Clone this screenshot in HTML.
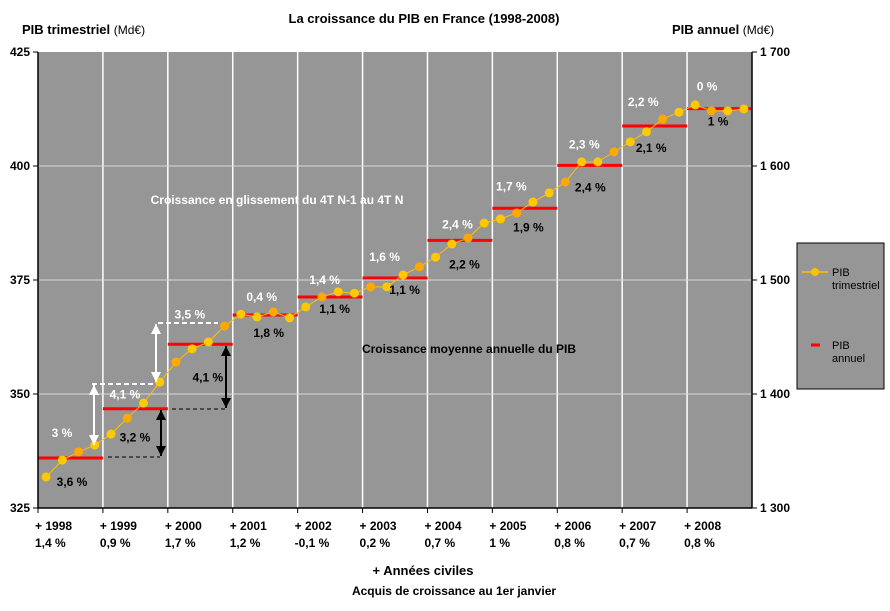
<!DOCTYPE html>
<html><head><meta charset="utf-8"><style>
body{margin:0;background:#fff;}
svg{display:block;font-family:"Liberation Sans",Arial,sans-serif;}
</style></head><body>
<svg id="chart" width="890" height="611" viewBox="0 0 890 611">
<defs>
<marker id="aw" markerUnits="userSpaceOnUse" markerWidth="10" markerHeight="10" refX="10" refY="5" orient="auto-start-reverse"><path d="M0,0 L10,5 L0,10 z" fill="#fff"/></marker>
<marker id="ab" markerUnits="userSpaceOnUse" markerWidth="10" markerHeight="10" refX="10" refY="5" orient="auto-start-reverse"><path d="M0,0 L10,5 L0,10 z" fill="#000"/></marker>
</defs>
<text x="424" y="23" text-anchor="middle" font-size="13" font-weight="bold">La croissance du PIB en France (1998-2008)</text>
<text x="22" y="34" font-size="13" font-weight="bold">PIB trimestriel <tspan font-weight="normal" font-size="12">(Md€)</tspan></text>
<text x="672" y="34" font-size="13" font-weight="bold">PIB annuel <tspan font-weight="normal" font-size="12">(Md€)</tspan></text>
<rect x="38" y="52" width="714" height="456" fill="#969696"/>
<g id="grid"></g>
<g id="annual"></g>
<g id="quarterly"></g>
<g id="axes"></g>
<g id="labels"></g>
<g>
<line x1="92" y1="384" x2="153" y2="384" stroke="#fff" stroke-width="2" stroke-dasharray="5,3"/>
<line x1="158" y1="323" x2="218" y2="323" stroke="#fff" stroke-width="2" stroke-dasharray="5,3"/>
<line x1="94" y1="385" x2="94" y2="445" stroke="#fff" stroke-width="2" marker-start="url(#aw)" marker-end="url(#aw)"/>
<line x1="156" y1="324" x2="156" y2="382" stroke="#fff" stroke-width="2" marker-start="url(#aw)" marker-end="url(#aw)"/>
<line x1="108" y1="457" x2="160" y2="457" stroke="#000" stroke-width="1" stroke-dasharray="4,3"/>
<line x1="172" y1="409" x2="228" y2="409" stroke="#000" stroke-width="1" stroke-dasharray="4,3"/>
<line x1="161" y1="410" x2="161" y2="456" stroke="#000" stroke-width="2" marker-start="url(#ab)" marker-end="url(#ab)"/>
<line x1="226" y1="346" x2="226" y2="408" stroke="#000" stroke-width="2" marker-start="url(#ab)" marker-end="url(#ab)"/>
</g>
<text x="277" y="204" text-anchor="middle" font-size="12" font-weight="bold" fill="#fff">Croissance en glissement du 4T N-1 au 4T N</text>
<text x="469" y="353" text-anchor="middle" font-size="12" font-weight="bold" fill="#000">Croissance moyenne annuelle du PIB</text>
<g>
<rect x="797" y="243" width="87" height="146" fill="#969696" stroke="#000" stroke-width="1"/>
<line x1="802" y1="272" x2="828" y2="272" stroke="#FFC000" stroke-width="1.5"/>
<circle cx="815" cy="272" r="4" fill="#FFC000"/>
<text x="832" y="276" font-size="11" fill="#000">PIB</text>
<text x="832" y="289" font-size="11" fill="#000">trimestriel</text>
<line x1="811" y1="345" x2="820" y2="345" stroke="#f00" stroke-width="3"/>
<text x="832" y="349" font-size="11" fill="#000">PIB</text>
<text x="832" y="362" font-size="11" fill="#000">annuel</text>
</g>
<text x="423" y="575" text-anchor="middle" font-size="13" font-weight="bold">+ Années civiles</text>
<text x="454" y="595" text-anchor="middle" font-size="12" font-weight="bold">Acquis de croissance au 1er janvier</text>
</svg>
<script>
const years=["1998","1999","2000","2001","2002","2003","2004","2005","2006","2007","2008"];
const acquis=["1,4 %","0,9 %","1,7 %","1,2 %","-0,1 %","0,2 %","0,7 %","1 %","0,8 %","0,7 %","0,8 %"];
const quarterly=[331.8,335.5,337.3,338.8,341.2,344.7,348.0,352.6,357.0,359.9,361.4,364.9,367.5,366.9,368.0,366.7,369.1,371.3,372.4,372.1,373.5,373.5,376.1,377.9,380.0,382.9,384.2,387.5,388.4,389.7,392.1,394.1,396.5,400.9,400.9,403.1,405.3,407.5,410.3,411.8,413.4,412.1,412.1,412.5];
const annual=[1343.9,1387.1,1443.6,1469.3,1485.1,1501.8,1534.8,1562.9,1600.6,1635.1,1650.3];
const glissement=["3 %","4,1 %","3,5 %","0,4 %","1,4 %","1,6 %","2,4 %","1,7 %","2,3 %","2,2 %","0 %"];
const moyenne=["3,6 %","3,2 %","4,1 %","1,8 %","1,1 %","1,1 %","2,2 %","1,9 %","2,4 %","2,1 %","1 %"];
const leftTicks=[325,350,375,400,425];
const rightTicks=[1300,1400,1500,1600,1700];
const rightTickLabels=["1 300","1 400","1 500","1 600","1 700"];
const NS="http://www.w3.org/2000/svg";
const X0=38,X1=752,Y0=508,Y1=52,YW=(X1-X0)/years.length;
const yL=v=>Y0-(v-325)/100*(Y0-Y1);
const yR=v=>Y0-(v-1300)/400*(Y0-Y1);
const xQ=i=>X0+(i+0.5)*YW/4;
const xY=i=>X0+i*YW;
function mk(tag,attrs,parent){const e=document.createElementNS(NS,tag);for(const k in attrs)e.setAttribute(k,attrs[k]);parent.appendChild(e);return e;}
const grid=document.getElementById('grid'),axes=document.getElementById('axes'),labels=document.getElementById('labels');
years.forEach((y,i)=>{if(i>0){const l=mk('line',{x1:xY(i),x2:xY(i),y1:Y1,y2:Y0,stroke:'#fff','stroke-width':1.5},grid);

}});
leftTicks.slice(1,-1).forEach(v=>{const l=mk('line',{x1:X0,x2:X1,y1:yL(v),y2:yL(v),stroke:'#d8d8d8','stroke-width':1},grid);

});
const ann=document.getElementById('annual');
annual.forEach((v,i)=>{const l=mk('line',{x1:xY(i),x2:xY(i+1),y1:yR(v),y2:yR(v),stroke:'#f00','stroke-width':3},ann);

});
const q=document.getElementById('quarterly');
const pl=mk('polyline',{points:quarterly.map((v,i)=>xQ(i)+','+yL(v)).join(' '),fill:'none',stroke:'#FFC000','stroke-width':1},q);


quarterly.forEach((v,i)=>{const c=mk('circle',{cx:xQ(i),cy:yL(v),r:4.5,fill:(i%3==2)?'#FFA800':'#FFC800'},q);

});
mk('line',{x1:X0,x2:X0,y1:Y1,y2:Y0,stroke:'#000','stroke-width':1.5},axes);
mk('line',{x1:X1,x2:X1,y1:Y1,y2:Y0,stroke:'#000','stroke-width':1.5},axes);
mk('line',{x1:X0,x2:X1,y1:Y0,y2:Y0,stroke:'#000','stroke-width':1.5},axes);
leftTicks.forEach(v=>{mk('line',{x1:X0-5,x2:X0,y1:yL(v),y2:yL(v),stroke:'#000'},axes);
const t=mk('text',{x:X0-8,y:yL(v)+4,'text-anchor':'end','font-size':12,'font-weight':'bold'},axes);t.textContent=v;

});
rightTicks.forEach((v,i)=>{mk('line',{x1:X1,x2:X1+5,y1:yR(v),y2:yR(v),stroke:'#000'},axes);
const t=mk('text',{x:X1+8,y:yR(v)+4,'font-size':12,'font-weight':'bold'},axes);t.textContent=rightTickLabels[i];

});
years.forEach((y,i)=>{mk('line',{x1:xY(i),x2:xY(i),y1:Y0,y2:Y0+5,stroke:'#000'},axes);
const t=mk('text',{x:xY(i)-3,y:530,'font-size':12,'font-weight':'bold'},axes);t.textContent='+ '+y;


const a=mk('text',{x:xY(i)-3,y:547,'font-size':12,'font-weight':'bold'},axes);a.textContent=acquis[i];

});
const gOff=[[24,-25],[22,-14],[22,-30],[29,-18],[27,-17],[22,-21],[30,-16],[19,-22],[27,-21],[21,-24],[20,-22]];
const mOff=[[34,24],[32,29],[40,33],[36,18],[37,12],[42,12],[37,24],[36,19],[33,22],[29,22],[31,13]];
glissement.forEach((s,i)=>{const t=mk('text',{x:xY(i)+gOff[i][0],y:yR(annual[i])+gOff[i][1]+4,'text-anchor':'middle','font-size':12,'font-weight':'bold',fill:'#fff'},labels);t.textContent=s;

});
moyenne.forEach((s,i)=>{const t=mk('text',{x:xY(i)+mOff[i][0],y:yR(annual[i])+mOff[i][1]+4,'text-anchor':'middle','font-size':12,'font-weight':'bold',fill:'#000'},labels);t.textContent=s;

});
</script>
</body></html>
